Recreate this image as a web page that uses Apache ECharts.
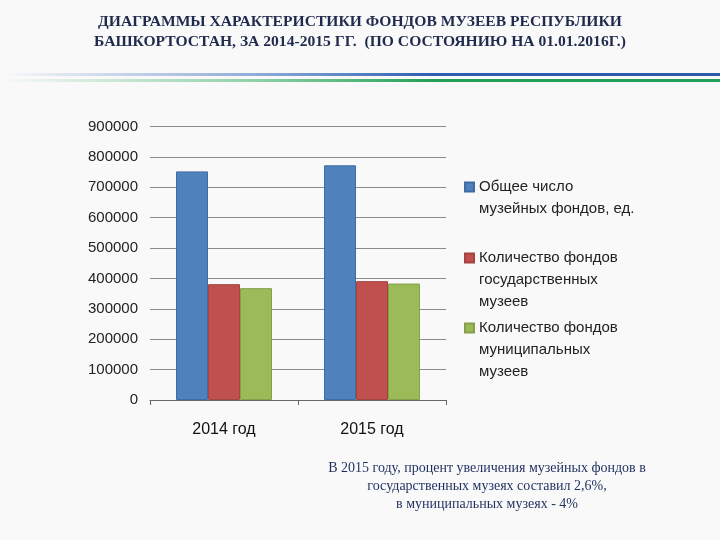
<!DOCTYPE html>
<html>
<head>
<meta charset="utf-8">
<script src="https://cdn.jsdelivr.net/npm/echarts@6/dist/echarts.min.js"></script>
<style>html,body{margin:0;padding:0;background:#f9f9f9;}#c{width:720px;height:540px;}</style>
</head>
<body>
<div id="c"></div>
<script>
var categories = ['2014 год', '2015 год'];
var seriesNames = ['Общее число музейных фондов, ед.', 'Количество фондов государственных музеев', 'Количество фондов муниципальных музеев'];
var legendLines = [['Общее число', 'музейных фондов, ед.'], ['Количество фондов', 'государственных', 'музеев'], ['Количество фондов', 'муниципальных', 'музеев']];
var totalFunds = [752000, 772000];
var stateFunds = [381000, 391000];
var municipalFunds = [368000, 383000];
var yTicks = [0, 100000, 200000, 300000, 400000, 500000, 600000, 700000, 800000, 900000];
var titleText = 'ДИАГРАММЫ ХАРАКТЕРИСТИКИ ФОНДОВ МУЗЕЕВ РЕСПУБЛИКИ\nБАШКОРТОСТАН, ЗА 2014-2015 ГГ.  (ПО СОСТОЯНИЮ НА 01.01.2016Г.)';
var noteText = 'В 2015 году, процент увеличения музейных фондов в\nгосударственных музеях составил 2,6%,\nв муниципальных музеях - 4%';

var colors = ['#4F81BD', '#C0504D', '#9BBB59'];
var borders = ['#3f6da3', '#a54340', '#84a04a'];
var values = [totalFunds, stateFunds, municipalFunds];
var lh = 22;
var iconCenters = [187, 258, 328];

var legends = seriesNames.map(function (n, i) {
  var lines = legendLines[i];
  var blanks = lines.length - 1;
  var total = lines.length + blanks;
  return {
    data: [n],
    orient: 'vertical',
    left: 464,
    top: iconCenters[i] - total * lh / 2,
    padding: 0,
    itemWidth: 9,
    itemHeight: 9,
    icon: 'rect',
    selectedMode: false,
    textStyle: { fontFamily: 'Liberation Sans', fontSize: 15, color: '#222', lineHeight: lh },
    formatter: function () {
      var pre = '';
      for (var k = 0; k < blanks; k++) pre += ' \n';
      return pre + lines.join('\n');
    }
  };
});

var chart = echarts.init(document.getElementById('c'));
chart.setOption({
  backgroundColor: '#f9f9f9',
  animation: false,
  title: {
    text: titleText,
    left: 'center',
    top: 7,
    textStyle: { fontFamily: 'Liberation Serif', fontWeight: 'bold', fontSize: 15.6, color: '#1f2a4d', lineHeight: 20 }
  },
  legend: legends,
  grid: { left: 150, right: 274, top: 126.4, bottom: 140, containLabel: false },
  xAxis: {
    type: 'category',
    data: categories,
    axisLine: { lineStyle: { color: '#666', width: 1 } },
    axisTick: { show: true, length: 5, lineStyle: { color: '#666' } },
    axisLabel: { fontFamily: 'Liberation Sans', fontSize: 16, color: '#111', margin: 22 }
  },
  yAxis: {
    type: 'value',
    min: yTicks[0],
    max: yTicks[yTicks.length - 1],
    interval: yTicks[1] - yTicks[0],
    axisLine: { show: false },
    axisTick: { show: false },
    splitLine: { lineStyle: { color: '#8a8a8a', width: 1 } },
    axisLabel: { fontFamily: 'Liberation Sans', fontSize: 15, color: '#222', margin: 12, formatter: function (v) { return String(v); } }
  },
  series: seriesNames.map(function (n, i) {
    return {
      name: n,
      type: 'bar',
      data: values[i],
      barWidth: 32,
      barGap: '0%',
      itemStyle: { color: colors[i], borderColor: borders[i], borderWidth: 1 }
    };
  }),
  graphic: [
    {
      type: 'rect', left: 0, top: 73, shape: { width: 720, height: 3 },
      style: { fill: new echarts.graphic.LinearGradient(0, 0, 1, 0, [
        { offset: 0, color: 'rgba(60,110,190,0)' },
        { offset: 0.35, color: 'rgba(60,110,190,0.55)' },
        { offset: 0.6, color: 'rgba(45,95,175,1)' },
        { offset: 1, color: '#2a5aa8' }
      ]) }, silent: true
    },
    {
      type: 'rect', left: 0, top: 79, shape: { width: 720, height: 3 },
      style: { fill: new echarts.graphic.LinearGradient(0, 0, 1, 0, [
        { offset: 0, color: 'rgba(40,170,90,0)' },
        { offset: 0.35, color: 'rgba(40,170,90,0.5)' },
        { offset: 0.6, color: 'rgba(35,160,85,1)' },
        { offset: 1, color: '#22a05a' }
      ]) }, silent: true
    },
    {
      type: 'text', x: 487, y: 459, silent: true,
      style: { text: noteText, align: 'center', verticalAlign: 'top', fontFamily: 'Liberation Serif', fontSize: 14, lineHeight: 18, fill: '#1f2f5f' }
    }
  ]
});
</script>
</body>
</html>
